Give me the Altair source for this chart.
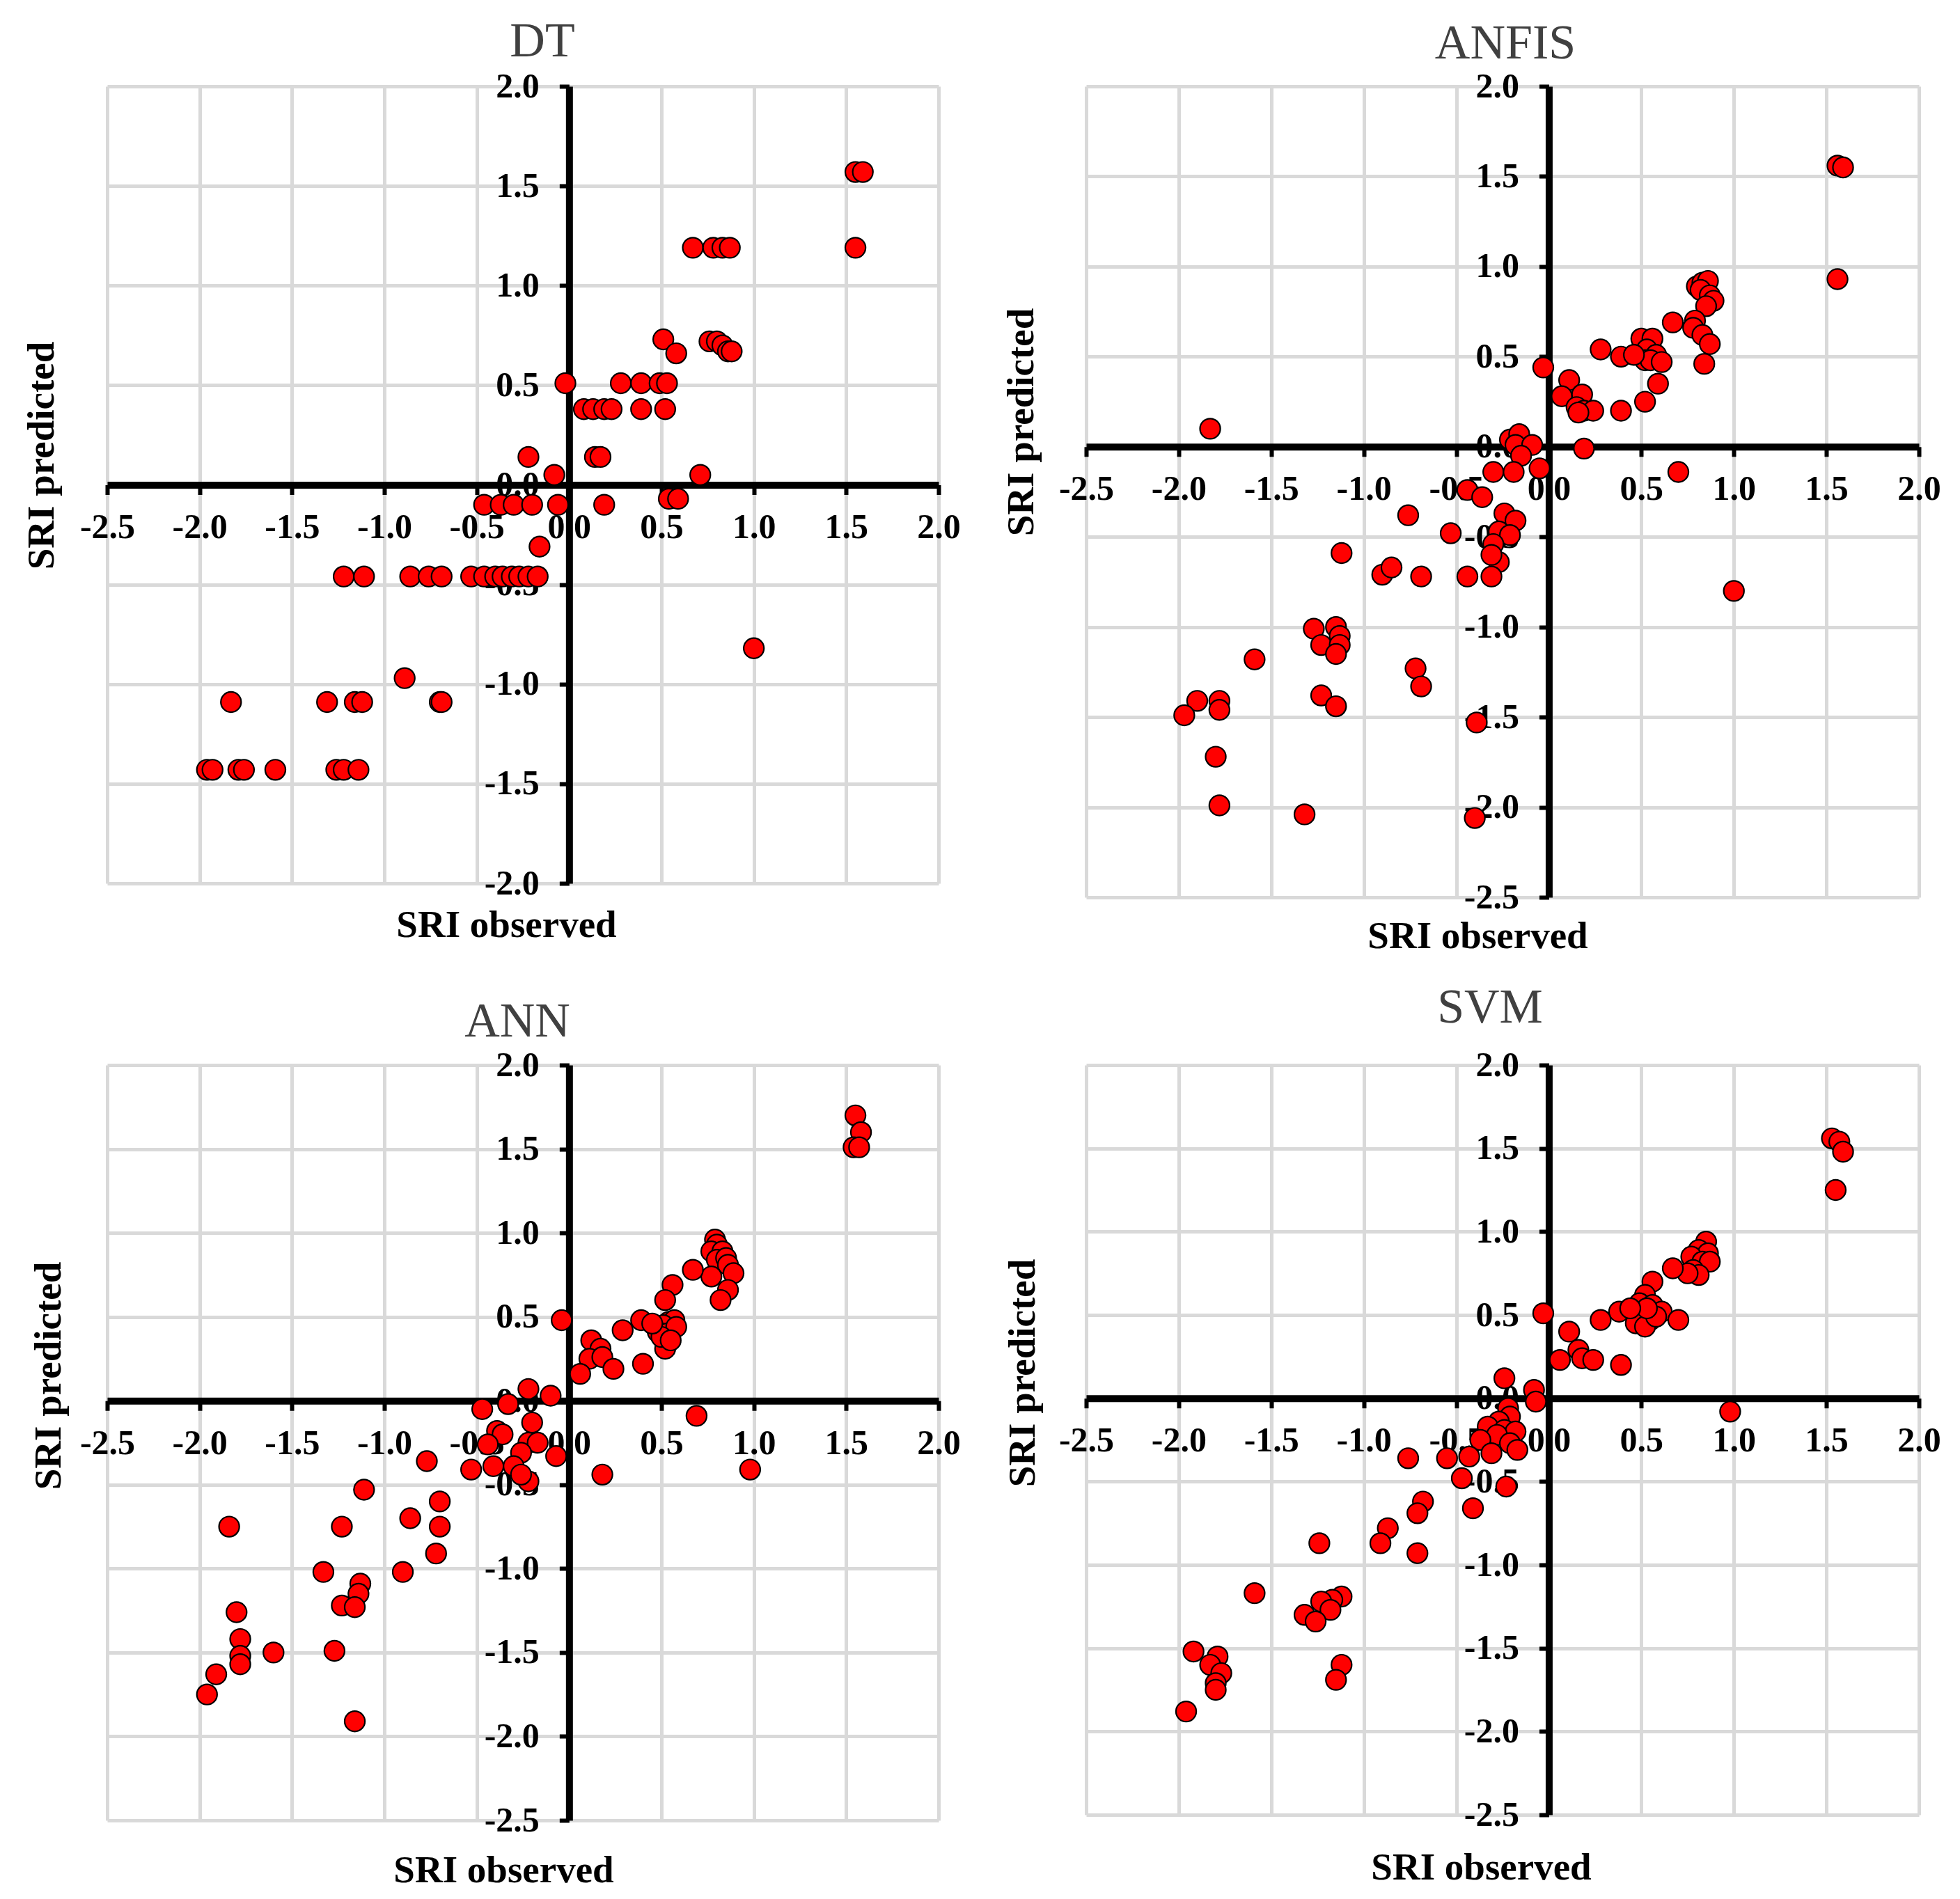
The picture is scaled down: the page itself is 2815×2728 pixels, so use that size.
import altair as alt
import pandas as pd

FONT = "Liberation Serif"

# ---------------- data ----------------
dt_obs = [1.55, 1.59, 1.55, 0.67, 0.78, 0.83, 0.87, 0.51, 0.58, 0.76, 0.80, 0.83, 0.86, 0.88,
          -0.02, 0.28, 0.39, 0.49, 0.53, 0.08, 0.13, 0.19, 0.23, 0.39, 0.52, -0.22, 0.14, 0.17,
          -0.08, 0.71, -0.46, -0.37, -0.30, -0.20, -0.06, 0.19, 0.54, 0.59, -0.16,
          -1.22, -1.11, -0.86, -0.76, -0.69, -0.53, -0.46, -0.40, -0.36, -0.31, -0.27, -0.22, -0.17,
          1.00, -0.89, -1.83, -1.31, -1.16, -1.12, -0.70, -0.69,
          -1.96, -1.93, -1.79, -1.76, -1.59, -1.26, -1.22, -1.14]
dt_pred = [1.57, 1.57, 1.19, 1.19, 1.19, 1.19, 1.19, 0.73, 0.66, 0.72, 0.72, 0.70, 0.67, 0.67,
           0.51, 0.51, 0.51, 0.51, 0.51, 0.38, 0.38, 0.38, 0.38, 0.38, 0.38, 0.14, 0.14, 0.14,
           0.05, 0.05, -0.10, -0.10, -0.10, -0.10, -0.10, -0.10, -0.07, -0.07, -0.31,
           -0.46, -0.46, -0.46, -0.46, -0.46, -0.46, -0.46, -0.46, -0.46, -0.46, -0.46, -0.46, -0.46,
           -0.82, -0.97, -1.09, -1.09, -1.09, -1.09, -1.09, -1.09,
           -1.43, -1.43, -1.43, -1.43, -1.43, -1.43, -1.43, -1.43]

anfis_obs = [1.56, 1.59, 1.56, 0.80, 0.83, 0.86, 0.82, 0.87, 0.89, 0.85,
             0.67, 0.79, 0.78, 0.83, 0.87, 0.84,
             0.50, 0.56, 0.53, 0.58, 0.52, 0.55, 0.61, 0.59, 0.52,
             0.28, 0.39, 0.46, 0.39, -0.03,
             0.11, 0.07, 0.18, 0.15, 0.19, 0.24, 0.16, 0.19, -1.83,
             -0.21, -0.16, -0.18, -0.09, -0.15, -0.30, -0.19, -0.05, 0.70,
             -0.44, -0.36, -0.76, -0.53,
             -0.24, -0.18, -0.27, -0.21, -0.30, -0.27, -0.31, -1.12,
             -0.90, -0.85, -0.69, -0.44, -0.31, 1.00,
             -1.27, -1.15, -1.13, -1.23, -1.13, -1.15, -1.59, -0.72, -0.69,
             -1.90, -1.97, -1.78, -1.78, -1.23, -1.15, -0.39, -1.80, -1.78, -1.32, -0.40]
anfis_pred = [1.56, 1.55, 0.93, 0.89, 0.91, 0.92, 0.87, 0.84, 0.81, 0.78,
              0.69, 0.70, 0.66, 0.62, 0.57, 0.46,
              0.60, 0.60, 0.54, 0.51, 0.48, 0.48, 0.47, 0.35, 0.25,
              0.54, 0.50, 0.51, 0.20, 0.44,
              0.37, 0.28, 0.29, 0.22, 0.20, 0.20, 0.19, -0.01, 0.10,
              0.04, 0.07, 0.01, 0.01, -0.05, -0.14, -0.14, -0.12, -0.14,
              -0.24, -0.28, -0.38, -0.48,
              -0.37, -0.41, -0.47, -0.49, -0.54, -0.64, -0.60, -0.59,
              -0.71, -0.67, -0.72, -0.72, -0.72, -0.80,
              -1.01, -1.00, -1.05, -1.10, -1.10, -1.15, -1.18, -1.23, -1.33,
              -1.41, -1.49, -1.41, -1.46, -1.38, -1.44, -1.53, -1.72, -1.99, -2.04, -2.06]

ann_obs = [1.55, 1.58, 1.54, 1.57,
           0.79, 0.80, 0.77, 0.83, 0.80, 0.85, 0.86, 0.89, 0.77, 0.86, 0.82, 0.67,
           0.56, 0.52, 0.54, 0.57, 0.51, 0.48, 0.53, 0.52, 0.58, 0.50, 0.55,
           0.39, 0.45, 0.29, -0.04, 0.12, 0.17, 0.11, 0.18, 0.24, 0.06, 0.40,
           0.69, 0.18, 0.98,
           -0.47, -0.33, -0.22, -0.10, -0.20, -0.39, -0.36, -0.44, -0.22, -0.17, -0.26, -0.07,
           -0.41, -0.30, -0.53, -0.22, -0.26,
           -0.77, -1.11, -0.70, -0.70, -0.86, -0.72, -1.84, -1.23, -1.33, -0.90,
           -1.13, -1.14, -1.23, -1.16, -1.80, -1.78, -1.78, -1.78, -1.60, -1.27, -1.91, -1.96, -1.16]
ann_pred = [1.70, 1.60, 1.51, 1.51,
            0.96, 0.93, 0.89, 0.89, 0.84, 0.85, 0.81, 0.76, 0.74, 0.66, 0.60, 0.78,
            0.69, 0.60, 0.47, 0.48, 0.45, 0.41, 0.40, 0.31, 0.44, 0.38, 0.36,
            0.48, 0.46, 0.42, 0.48, 0.36, 0.31, 0.25, 0.26, 0.19, 0.16, 0.22,
            -0.09, -0.44, -0.41,
            -0.05, -0.02, 0.07, 0.03, -0.13, -0.18, -0.20, -0.26, -0.25, -0.25, -0.31, -0.33,
            -0.39, -0.39, -0.41, -0.48, -0.44,
            -0.36, -0.53, -0.60, -0.75, -0.70, -0.91, -0.75, -0.75, -1.02, -1.02,
            -1.09, -1.15, -1.22, -1.23, -1.26, -1.42, -1.52, -1.57, -1.50, -1.49, -1.63, -1.75, -1.91]

svm_obs = [1.53, 1.57, 1.59, 1.55,
           0.85, 0.81, 0.86, 0.77, 0.83, 0.87, 0.78, 0.81, 0.75, 0.67, 0.56, 0.52,
           0.49, 0.56, 0.61, 0.50, 0.55, 0.47, 0.52, 0.58, 0.53, 0.70, 0.38, 0.44, 0.28, -0.03,
           0.11, 0.06, 0.16, 0.18, 0.24, 0.39, -0.24, -0.08, -0.07, 0.98,
           -0.22, -0.21, -0.27, -0.33, -0.24, -0.18, -0.28, -0.37, -0.21, -0.17, -0.31,
           -0.76, -0.55, -0.43, -0.47, -0.23, -0.68, -0.71, -0.41, -0.87, -0.91, -0.71, -1.24, -1.59,
           -1.12, -1.17, -1.23, -1.18, -1.32, -1.26, -1.12, -1.15,
           -1.92, -1.79, -1.83, -1.77, -1.80, -1.80, -1.96]
svm_pred = [1.56, 1.54, 1.48, 1.25,
            0.94, 0.89, 0.87, 0.85, 0.82, 0.82, 0.77, 0.74, 0.75, 0.78, 0.70, 0.62,
            0.57, 0.56, 0.52, 0.50, 0.47, 0.45, 0.43, 0.49, 0.54, 0.47, 0.52, 0.54, 0.47, 0.51,
            0.40, 0.23, 0.29, 0.24, 0.23, 0.20, 0.12, 0.05, -0.02, -0.08,
            -0.06, -0.11, -0.14, -0.17, -0.19, -0.20, -0.22, -0.25, -0.27, -0.31, -0.33,
            -0.36, -0.36, -0.35, -0.48, -0.53, -0.62, -0.69, -0.66, -0.78, -0.87, -0.93, -0.87, -1.17,
            -1.19, -1.21, -1.22, -1.27, -1.30, -1.34, -1.60, -1.69,
            -1.52, -1.55, -1.60, -1.65, -1.71, -1.75, -1.88]

x_ticks = [-2.5, -2.0, -1.5, -1.0, -0.5, 0.0, 0.5, 1.0, 1.5, 2.0]
y_ticks_dt = [-2.0, -1.5, -1.0, -0.5, 0.0, 0.5, 1.0, 1.5, 2.0]
y_ticks_full = [-2.5, -2.0, -1.5, -1.0, -0.5, 0.0, 0.5, 1.0, 1.5, 2.0]

LABEL_EXPR = "(datum.value < 0 ? '-' : '') + format(abs(datum.value), '.1f')"
GRID_OPACITY = {"condition": {"test": "datum.value === 0", "value": 0}, "value": 1}


def common_axis():
    return dict(
        grid=True, gridColor="#d9d9d9", gridWidth=5, gridOpacity=GRID_OPACITY,
        domainColor="#000000", domainWidth=10,
        tickColor="#000000", tickWidth=6, tickSize=14,
        labelExpr=LABEL_EXPR, labelFont=FONT, labelFontSize=50, labelFontWeight="bold",
        labelColor="#000000", labelOverlap=False, labelFlush=False, labelBound=False,
        titleFont=FONT, titleFontSize=55, titleFontWeight="bold", titleColor="#000000",
        titleAlign="center", titleBaseline="alphabetic",
    )


def panel(name, obs, pred, width, height, y_ticks, title_dx, title_offset,
          xt_center, xt_gap, yt_base, yt_center):
    df = pd.DataFrame({"obs": obs, "pred": pred})
    ymin, ymax = y_ticks[0], y_ticks[-1]
    x0 = (0 - x_ticks[0]) / (x_ticks[-1] - x_ticks[0]) * width
    y0_from_bottom = (0 - ymin) / (ymax - ymin) * height

    xaxis = alt.Axis(values=x_ticks, offset=-y0_from_bottom, labelPadding=22,
                     title="SRI observed", titleX=xt_center, titleY=xt_gap + y0_from_bottom,
                     **common_axis())
    yaxis = alt.Axis(values=y_ticks, offset=-x0, labelPadding=29,
                     title="SRI predicted", titleAngle=270,
                     titleX=yt_base - x0, titleY=yt_center,
                     **common_axis())

    return alt.Chart(df).mark_circle(
        size=850, color="#ff0000", opacity=1, stroke="#000000", strokeWidth=2.2
    ).encode(
        x=alt.X("obs:Q", scale=alt.Scale(domain=[x_ticks[0], x_ticks[-1]], nice=False, zero=False), axis=xaxis),
        y=alt.Y("pred:Q", scale=alt.Scale(domain=[ymin, ymax], nice=False, zero=False), axis=yaxis),
    ).properties(
        width=width, height=height,
        title=alt.Title(name, font=FONT, fontSize=70, fontWeight="normal", color="#404040",
                        anchor="middle", frame="group", dx=title_dx, offset=title_offset,
                        baseline="alphabetic"),
    )


dt = panel("DT", dt_obs, dt_pred, 1194, 1145, y_ticks_dt, 28, -52, 573, 76, -78, 530)
anfis = panel("ANFIS", anfis_obs, anfis_pred, 1196, 1165, y_ticks_full, 4, -55, 562, 72, -76, 482)
ann = panel("ANN", ann_obs, ann_pred, 1194, 1085, y_ticks_full, -8, -54, 569, 88, -68, 446)
svm = panel("SVM", svm_obs, svm_pred, 1196, 1077, y_ticks_full, -18, -34, 567, 92, -74, 442)

chart = alt.concat(
    dt, anfis, ann, svm, columns=2, spacing={"row": 241, "column": 212}, bounds="flush"
).properties(
    padding={"left": 24, "top": 17, "right": 5, "bottom": 5},
    background="white",
).configure_view(stroke=None)

chart.save("out.html", embed_options={"renderer": "svg", "actions": False})
